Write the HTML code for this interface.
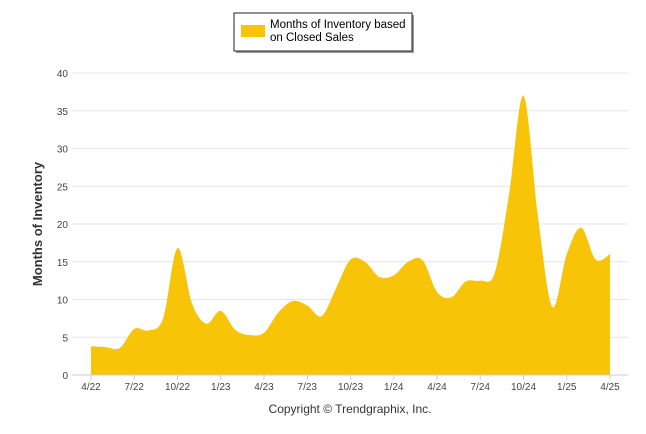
<!DOCTYPE html>
<html><head><meta charset="utf-8"><style>
body{margin:0;background:#fff;font-family:"Liberation Sans",sans-serif;}
svg{display:block}
</style></head><body>
<svg width="646" height="434">
<g>
<rect x="236" y="15" width="178" height="38" fill="#999"/>
<rect x="234" y="13" width="178" height="38" fill="#fff" stroke="#222" stroke-width="1"/>
<rect x="241" y="25" width="24" height="12" fill="#F7C408"/>
<text x="270" y="28" font-size="11.5" fill="#000">Months of Inventory based</text>
<text x="270" y="41" font-size="11.5" fill="#000">on Closed Sales</text>
</g>
<text transform="translate(42,224) rotate(-90)" text-anchor="middle" font-size="13" font-weight="bold" fill="#333">Months of Inventory</text>
<g id="grid"></g><g id="area"></g><g id="axes"></g>
<text x="350" y="413" text-anchor="middle" font-size="12" fill="#333">Copyright © Trendgraphix, Inc.</text>
</svg>
<script>
const values=[3.8,3.7,3.6,6.1,5.9,7.5,16.8,9.5,6.8,8.5,6.0,5.3,5.6,8.3,9.8,9.2,7.8,11.5,15.3,15.0,13.0,13.2,15.0,15.2,11.0,10.3,12.4,12.5,13.5,24.0,37.0,21.0,9.0,16.0,19.5,15.3,16.0];
const xLabels=["4/22","7/22","10/22","1/23","4/23","7/23","10/23","1/24","4/24","7/24","10/24","1/25","4/25"];
const yTicks=[0,5,10,15,20,25,30,35,40];
const NS="http://www.w3.org/2000/svg";
const x0=91,x1=610,y0=375,y40=73;
const X=i=>x0+(x1-x0)*i/(values.length-1);
const Y=v=>y0-(y0-y40)*v/40;
function mk(t,a,p){const e=document.createElementNS(NS,t);for(const k in a)e.setAttribute(k,a[k]);p.appendChild(e);return e;}
const grid=document.getElementById('grid'),axes=document.getElementById('axes'),area=document.getElementById('area');
yTicks.forEach(v=>{
 if(v>0){const l=mk('line',{x1:72,x2:628,y1:Y(v),y2:Y(v),stroke:'#e6e6e6'},grid);
 
 }
 const t=mk('text',{x:68,y:Y(v)+4,'text-anchor':'end','font-size':'10',fill:'#444'},axes);
 
 
 t.textContent=v;
});
// smooth area
const pts=values.map((v,i)=>[X(i),Y(v)]);
let d=`M${pts[0][0]},${y0}L${pts[0][0]},${pts[0][1]}`;
for(let i=0;i<pts.length-1;i++){
 const p0=pts[Math.max(0,i-1)],p1=pts[i],p2=pts[i+1],p3=pts[Math.min(pts.length-1,i+2)];
 const c1=[p1[0]+(p2[0]-p0[0])/6,p1[1]+(p2[1]-p0[1])/6],c2=[p2[0]-(p3[0]-p1[0])/6,p2[1]-(p3[1]-p1[1])/6];
 d+=`C${c1[0]},${Math.min(c1[1],y0)} ${c2[0]},${Math.min(c2[1],y0)} ${p2[0]},${p2[1]}`;
}
d+=`L${pts[pts.length-1][0]},${y0}Z`;
const a=mk('path',{d:d,fill:'#F7C408'},area);


const ax=mk('line',{x1:72,x2:628,y1:y0,y2:y0,stroke:'#ccc'},axes);


xLabels.forEach((s,k)=>{
 const x=X(k*3);
 mk('line',{x1:x,x2:x,y1:y0,y2:y0+5,stroke:'#ccc'},axes);
 const t=mk('text',{x:x,y:390,'text-anchor':'middle','font-size':'10',fill:'#444'},axes);
 
 
 t.textContent=s;
});
</script>
</body></html>
